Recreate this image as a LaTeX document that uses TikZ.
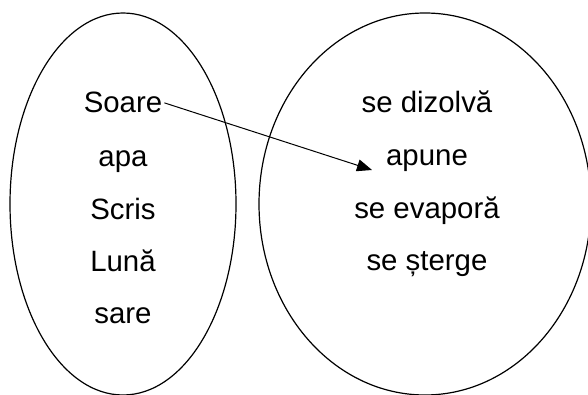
\documentclass[tikz,border=0pt]{standalone}
\usepackage{fontspec}
\setmainfont{Liberation Sans}
\usetikzlibrary{arrows.meta}

\begin{document}
\begin{tikzpicture}[
  x=1pt, y=1pt,
  set/.style={draw, line width=1.2pt},
  word/.style={anchor=base, inner sep=2pt, font=\fontsize{29.4}{34}\selectfont},
  arrow/.style={line width=1pt, -{Triangle[length=15pt, width=12pt]}}
  ]
  \useasboundingbox (0,0) rectangle (588,394);

  % The two sets side by side
  \draw[set] (123,190) ellipse [x radius=113pt, y radius=191pt];
  \draw[set] (425,190) ellipse [x radius=166pt, y radius=191pt];

  % Words of the left set
  \node[word] (soare) at (123,281) {Soare};
  \node[word] (apa) at (123,228) {apa};
  \node[word] (scris) at (123,175) {Scris};
  \node[word] (luna) at (123,123) {Lună};
  \node[word] (sare) at (123,71) {sare};

  % Words of the right set
  \node[word] (dizolva) at (427,281) {se dizolvă};
  \node[word] (apune) at (427,229) {apune};
  \node[word] (evapora) at (427,176) {se evaporă};
  \node[word] (sterge) at (427,124) {se șterge};

  % Link from Soare towards apune
  \coordinate (tip) at (372,224);
  \draw[arrow] (soare.east) -- (tip);

\end{tikzpicture}
\end{document}
